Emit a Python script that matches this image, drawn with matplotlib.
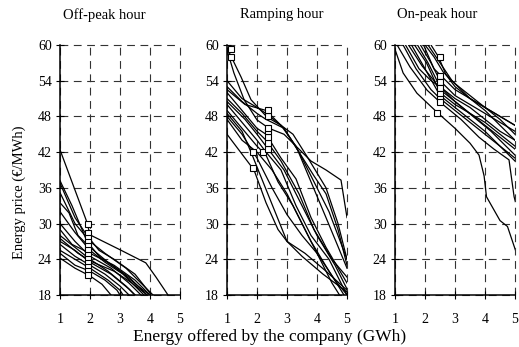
import matplotlib.pyplot as plt

# offer curves: each curve is a list of (GWh, EUR/MWh) points
off_curves = [
    [(1, 42.4), (1.9, 30.2), (2.0, 28.1), (3.0, 25.6), (3.86, 23.4), (4.2, 21), (4.6, 18)],
    [(1, 37.2), (1.4, 33), (1.9, 27), (2.3, 24.5), (3.0, 22), (3.6, 19.5), (4.0, 18)],
    [(1, 36.8), (1.5, 31), (1.9, 28), (2.3, 25.5), (2.8, 24), (3.5, 21.5), (4.0, 18.3)],
    [(1, 35.2), (1.5, 30), (2.0, 27), (2.5, 25), (3.2, 22.5), (3.8, 19.5), (4.1, 18)],
    [(1, 33.5), (1.3, 31.8), (1.6, 28), (2.0, 26), (2.6, 23.5), (3.3, 21), (3.9, 18)],
    [(1, 32), (1.5, 28.5), (2.0, 25.5), (2.5, 23.5), (3.1, 21.5), (3.6, 19), (3.8, 18)],
    [(1, 30), (1.5, 27), (2.0, 24.5), (2.7, 22.5), (3.3, 20), (3.7, 18)],
    [(1, 29), (1.4, 26.5), (2.0, 25), (2.8, 23), (3.5, 20.5), (4.0, 18)],
    [(1, 28), (1.5, 26), (2.0, 24), (2.6, 22), (3.2, 19.5), (3.5, 18)],
    [(1, 27.5), (1.6, 25), (2.1, 23.5), (2.8, 22), (3.4, 20), (3.9, 18)],
    [(1, 27), (1.5, 25.5), (2.0, 23.5), (2.7, 21.5), (3.3, 19), (3.5, 18)],
    [(1, 26.5), (1.5, 24.5), (2.0, 23), (2.5, 21.5), (3.0, 19.5), (3.3, 18)],
    [(1, 25.5), (1.5, 24), (2.0, 22.5), (2.6, 20.5), (3.0, 18.8), (3.1, 18)],
    [(1, 25), (1.5, 23), (2.0, 22), (2.5, 20.5), (2.9, 18.8), (3.0, 18)],
    [(1, 24.2), (1.5, 22.5), (2.0, 21.2), (2.4, 19.8), (2.7, 18)],
]
ramp_curves = [
    [(0.95, 60), (1.23, 55.3), (1.57, 50.8), (2.0, 47.4), (2.4, 46), (2.9, 45), (3.3, 43), (3.8, 40.5), (4.3, 39), (4.8, 37.3), (5.0, 31)],
    [(1, 59.5), (1.47, 54.6), (1.8, 50.8), (2.33, 47.9), (2.8, 46.5), (3.2, 45), (3.7, 41), (4.3, 36), (4.7, 30), (5, 24)],
    [(1, 54), (1.5, 51), (2.0, 49.5), (2.3, 48.5), (2.8, 46.5), (3.3, 43), (3.8, 37), (4.3, 31), (5, 22.5)],
    [(1, 53), (1.5, 50.5), (2.0, 48.5), (2.3, 47.5), (2.9, 46), (3.4, 42), (3.9, 37), (4.4, 32), (5, 24)],
    [(1, 52), (1.5, 49), (2.0, 46), (2.3, 45), (2.8, 41), (3.3, 37.5), (3.8, 31), (4.3, 26), (5, 20)],
    [(1, 51), (1.5, 48.5), (2.0, 45.5), (2.3, 44), (2.8, 40.5), (3.4, 35), (3.9, 29), (4.5, 24), (5, 21)],
    [(1, 50.5), (1.6, 47.5), (2.0, 45), (2.3, 43), (2.9, 39), (3.5, 33), (4.0, 28), (4.6, 23), (5, 19)],
    [(1, 50), (1.5, 47), (2.0, 44), (2.3, 42), (2.8, 39), (3.3, 33), (3.8, 28), (4.4, 24), (5, 18)],
    [(1, 49), (1.5, 46), (2.0, 43), (2.3, 41.5), (2.7, 37), (3.2, 33), (3.8, 27), (4.4, 22), (4.9, 18)],
    [(1, 48.5), (1.5, 45.5), (1.8, 42), (2.2, 37), (2.6, 32), (3.0, 27), (3.5, 24.5), (4.2, 21.5), (5, 18.5)],
    [(1, 48), (1.5, 45), (2.0, 41), (2.5, 36), (3.0, 31.5), (3.5, 28), (4.0, 25), (4.6, 20.5), (5, 18)],
    [(1, 47.5), (1.5, 44), (2.0, 42), (2.5, 39), (3.0, 35), (3.5, 30), (4.0, 25), (4.5, 20), (4.75, 18)],
    [(1, 45), (1.9, 39), (2.3, 33.5), (2.7, 29), (3.0, 27), (3.6, 25), (4.3, 22), (5, 18.8)],
    [(1, 52.5), (1.6, 50), (2.3, 49), (2.9, 46), (3.4, 42), (3.9, 38), (4.3, 35), (4.7, 29), (5, 23)],
]
peak_curves = [
    [(0.95, 60), (1.27, 55.3), (1.73, 51.9), (2.4, 48.7), (3.0, 46), (3.5, 43.5), (3.8, 41.5), (3.97, 38), (4.05, 34.5), (4.5, 30.5), (4.75, 29.5), (5.05, 25)],
    [(1.07, 60), (1.5, 56.3), (2.07, 52.4), (2.5, 50.4), (3.2, 47.5), (3.8, 44.5), (4.3, 42.5), (4.8, 40.7), (4.97, 34.5), (5.1, 32)],
    [(1.27, 60), (1.7, 56), (2.2, 52.5), (2.5, 51), (3, 49), (3.5, 47), (4, 45), (4.5, 43), (5, 41)],
    [(1.35, 60), (1.8, 56), (2.2, 54), (2.5, 53), (3, 50.5), (3.5, 48.5), (4, 46.5), (4.5, 44.5), (5, 42.5)],
    [(1.45, 60), (1.9, 56.5), (2.3, 54), (2.5, 52.5), (3, 50.5), (3.6, 48), (4.2, 45.5), (5, 41.5)],
    [(1.55, 60), (2.0, 56), (2.5, 51.5), (3, 49.5), (3.5, 47.5), (4, 45.5), (4.5, 43), (5, 40.5)],
    [(1.65, 60), (2.05, 57), (2.5, 52), (3, 50), (3.5, 48.5), (4, 47), (4.5, 45), (5, 43)],
    [(1.75, 60), (2.1, 57), (2.5, 53), (3, 51), (3.5, 49.5), (4, 47.5), (4.5, 45.5), (5, 44)],
    [(1.85, 60), (2.2, 57), (2.5, 54), (3, 51.5), (3.5, 50), (4, 48.5), (4.5, 47), (5, 45.5)],
    [(1.95, 60), (2.3, 56), (2.5, 55), (3, 52.5), (3.5, 51), (4, 49.5), (4.5, 48), (5, 46.5)],
    [(2.0, 60), (2.3, 58), (2.6, 55.5), (3, 53.5), (3.5, 51.5), (4, 49.5), (4.5, 47.5), (5, 45)],
    [(2.1, 60), (2.5, 57), (2.9, 54), (3.5, 51), (4, 49.5), (4.5, 48), (5, 46.5)],
    [(2.2, 60), (2.45, 58), (2.7, 55), (3, 53), (3.5, 51), (4, 49), (4.5, 46.5), (5, 44)],
]

# square markers (bids that cleared)
off_sq_x = [1.92] * 12
off_sq_y = [30, 28.4, 27.6, 26.9, 26.2, 25.5, 24.8, 24.1, 23.4, 22.7, 22, 21.4]
ramp_sq_x = [1.12, 1.12, 1.85, 1.85, 2.2, 2.35, 2.35, 2.35, 2.35, 2.35, 2.35, 2.35]
ramp_sq_y = [59.4, 58.0, 42, 39.3, 42, 42.5, 43.5, 44.5, 45.5, 46, 48, 49]
peak_sq_x = [2.5, 2.5, 2.5, 2.5, 2.5, 2.5, 2.5, 2.4]
peak_sq_y = [58, 54.8, 53.8, 52.8, 51.8, 51, 50.4, 48.6]

titles = ['Off-peak hour', 'Ramping hour', 'On-peak hour']
title_x = [0.37, 0.46, 0.35]
x_ticks = [1, 2, 3, 4, 5]
y_ticks = [18, 24, 30, 36, 42, 48, 54, 60]

plt.rcParams['font.family'] = ['Liberation Serif', 'DejaVu Serif']

fig = plt.figure(figsize=(5.19, 3.47), dpi=100)
lefts = [0.1156, 0.4374, 0.7611]

panels = [
    (off_curves, off_sq_x, off_sq_y),
    (ramp_curves, ramp_sq_x, ramp_sq_y),
    (peak_curves, peak_sq_x, peak_sq_y),
]

for i, (curves, sq_x, sq_y) in enumerate(panels):
    ax = fig.add_axes([lefts[i], 0.1499, 0.2312, 0.7205])
    for c in curves:
        xs = [p[0] for p in c]
        ys = [p[1] for p in c]
        ax.plot(xs, ys, color='black', lw=0.9)
    ax.plot(sq_x, sq_y, 's', ms=5, mfc='white', mec='black', mew=0.8, zorder=3)
    ax.set_xlim(1, 5)
    ax.set_ylim(18, 60)
    ax.set_xticks(x_ticks)
    ax.set_yticks(y_ticks)
    ax.grid(True, color='0.2', lw=0.8, linestyle=(0, (7, 5)))
    ax.set_axisbelow(True)
    # keep the grid lines at the limits fully visible (they form the dashed frame)
    for gl in ax.get_xgridlines() + ax.get_ygridlines():
        gl.set_clip_on(False)
    for s in ['top', 'right']:
        ax.spines[s].set_visible(False)
    for s in ['left', 'bottom']:
        ax.spines[s].set_linewidth(1.1)
    ax.tick_params(direction='inout', length=6, width=0.8, labelsize=10, pad=10)
    ax.tick_params(axis='y', pad=3)
    ax.text(title_x[i], 1.12, titles[i], transform=ax.transAxes,
            ha='center', va='center', fontsize=10.5)

fig.text(0.038, 0.447, 'Energy price (€/MWh)', rotation=90,
         ha='center', va='center', fontsize=10.5)
fig.text(0.52, 0.03, 'Energy offered by the company (GWh)',
         ha='center', va='center', fontsize=12.5)

fig.savefig('out.png', dpi=100)
